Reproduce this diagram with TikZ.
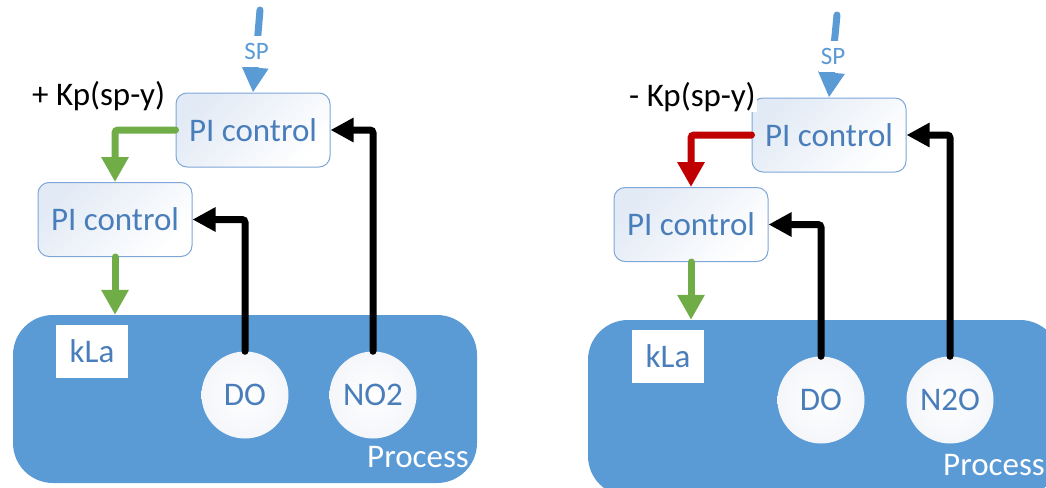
\documentclass[tikz,border=0pt]{standalone}
\usepackage{fontspec}
\setmainfont{Carlito}
\usetikzlibrary{arrows.meta}
\definecolor{procblue}{HTML}{5B9BD5}
\definecolor{txtblue}{HTML}{4A7EBB}
\definecolor{boxedge}{HTML}{7EA6D8}
\definecolor{boxtint}{HTML}{E2EAF5}
\definecolor{flowgreen}{HTML}{70AD47}
\definecolor{flowred}{HTML}{C00000}
\definecolor{circrim}{HTML}{F4F6FA}

\begin{document}
\begin{tikzpicture}[x=1pt,y=-1pt,
  big/.style={font=\fontsize{33}{40}\selectfont},
  process/.style={fill=procblue, rounded corners=40pt, inner sep=0pt},
  proclabel/.style={big, text=white, anchor=base west, inner sep=0pt},
  ctrl/.style={big, text=txtblue, draw=boxedge, line width=1pt,
    rounded corners=11pt, minimum width=154pt, minimum height=74pt,
    top color=boxtint, bottom color=white, shading angle=45},
  actuator/.style={big, text=txtblue, fill=white, minimum width=72pt,
    minimum height=53pt, inner sep=0pt},
  sensor/.style={big, text=txtblue, circle, minimum size=87pt, inner sep=0pt,
    inner color=white, outer color=circrim},
  gain/.style={big, text=black, anchor=base west, inner sep=1pt},
  splabel/.style={font=\fontsize{25}{30}\selectfont, text=procblue,
    fill=white, inner xsep=2pt, inner ysep=7.5pt},
  sparrow/.style={procblue, line width=7pt, line cap=round,
    -{Triangle[width=25pt,length=25pt]}},
  feedback/.style={black, line width=7pt, line cap=round, rounded corners=3pt,
    -{Triangle[width=23pt,length=23pt]}},
  command/.style={line width=7pt, line cap=round, rounded corners=3pt,
    -{Triangle[width=26pt,length=25pt]}}
]
\useasboundingbox (0,0) rectangle (1046,487);
\clip (0,0) rectangle (1046,487);

% ---------- left loop: NO2 control ----------
\node[process, minimum width=464pt, minimum height=168pt] (procL) at (245,399) {};
\node[proclabel] (procLtxt) at (367,467) {Process};
\node[actuator] (klaL) at (92,351.5) {kLa};
\node[sensor] (doL) at (245,395) {DO};
\node[sensor] (no2L) at (373,395) {NO2};

\node[ctrl] (pi1L) at (253,130) {PI control};
\node[ctrl] (pi2L) at (115,219.5) {PI control};
\node[gain] (gainL) at (31,105) {+ Kp(sp-y)};

\coordinate (spL) at (260,10);
\draw[sparrow] (spL) -- node[splabel] (spLtxt) {SP} (pi1L.north);

\draw[command, flowgreen] (pi1L.west) -| (pi2L.north);
\draw[command, flowgreen] (pi2L.south) -- (pi2L.south |- procL.north);
\draw[feedback] (doL.north) |- (pi2L.east);
\draw[feedback] (no2L.north) |- (pi1L.east);

% ---------- right loop: N2O control ----------
\node[process, minimum width=472pt, minimum height=176pt] (procR) at (824,408) {};
\node[proclabel] (procRtxt) at (943,475) {Process};
\node[actuator] (klaR) at (668,356.5) {kLa};
\node[sensor] (doR) at (821,400) {DO};
\node[sensor] (n2oR) at (950,400) {N2O};

\node[ctrl] (pi1R) at (829,135) {PI control};
\node[ctrl] (pi2R) at (691,224.5) {PI control};
\node[gain, fill=white] (gainR) at (628,106) {- Kp(sp-y)};

\coordinate (spR) at (837,15);
\draw[sparrow] (spR) -- node[splabel] (spRtxt) {SP} (pi1R.north);

\draw[command, flowred] (pi1R.west) -| (pi2R.north);
\draw[command, flowgreen] (pi2R.south) -- (pi2R.south |- procR.north);
\draw[feedback] (doR.north) |- (pi2R.east);
\draw[feedback] (n2oR.north) |- (pi1R.east);
\end{tikzpicture}
\end{document}
